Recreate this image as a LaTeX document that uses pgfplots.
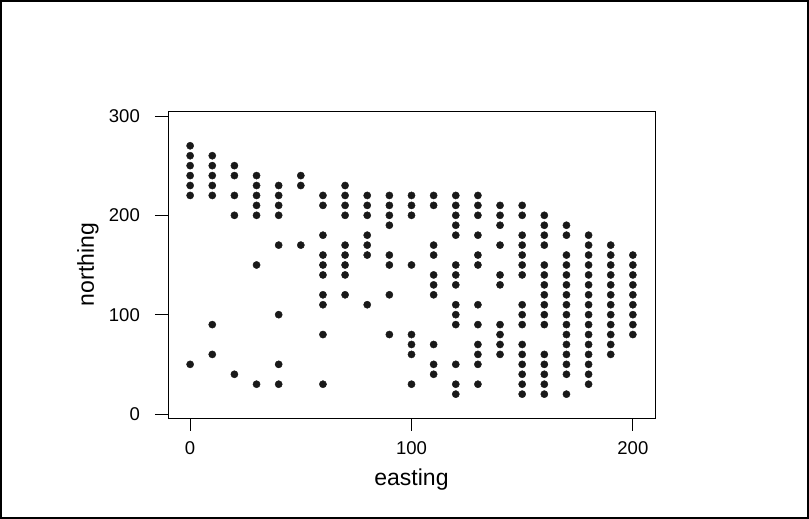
\documentclass[border=0pt]{standalone}
\usepackage{pgfplots}
\pgfplotsset{compat=1.18}
\usepackage{fontspec}
\setmainfont{Liberation Sans}
\begin{document}
\begin{tikzpicture}[x=1pt,y=1pt]
\useasboundingbox (0,0) rectangle (809,519);
\draw[line width=1.2pt] (1,1) rectangle (808,518);
\begin{axis}[
  at={(168pt,101pt)}, anchor=south west,
  scale only axis, width=487pt, height=307pt,
  xmin=-10, xmax=210, ymin=-4, ymax=305,
  xtick={0,100,200}, ytick={0,100,200,300},
  xtick pos=left, ytick pos=left,
  tick align=outside, major tick length=13pt,
  tick style={black, line width=0.9pt},
  axis line style={black, line width=0.9pt},
  /pgf/number format/assume math mode=true,
  ticklabel style={font=\fontsize{18.5}{18.5}\selectfont, inner sep=0pt},
  xticklabel shift=10pt, yticklabel shift=15pt,
  xlabel={easting}, ylabel={northing},
  label style={font=\fontsize{23}{23}\selectfont},
  xlabel style={at={(axis description cs:0.5,0)}, anchor=base, yshift=-68pt},
  ylabel style={at={(axis description cs:0,0.5)}, anchor=base, yshift=74pt},
]
\addplot[only marks, mark=*, mark size=3.6pt, color=black!90, mark options={fill=black!90, draw=black!90}] table {
x y
0 270
0 260
0 250
0 240
0 230
0 220
0 50
10 260
10 250
10 240
10 230
10 220
10 90
10 60
20 250
20 240
20 220
20 200
20 40
30 240
30 230
30 220
30 210
30 200
30 150
30 30
40 230
40 220
40 210
40 200
40 170
40 100
40 50
40 30
50 240
50 230
50 170
60 220
60 210
60 180
60 160
60 150
60 140
60 120
60 110
60 80
60 30
70 230
70 220
70 210
70 200
70 170
70 160
70 150
70 140
70 120
80 220
80 210
80 200
80 180
80 170
80 160
80 110
90 220
90 210
90 200
90 190
90 160
90 150
90 120
90 80
100 220
100 210
100 200
100 150
100 80
100 70
100 60
100 30
110 220
110 210
110 170
110 160
110 140
110 130
110 120
110 70
110 50
110 40
120 220
120 210
120 200
120 190
120 180
120 150
120 140
120 130
120 110
120 100
120 90
120 50
120 30
120 20
130 220
130 210
130 200
130 180
130 160
130 150
130 110
130 90
130 70
130 60
130 50
130 30
140 210
140 200
140 190
140 170
140 140
140 130
140 90
140 80
140 70
140 60
150 210
150 200
150 180
150 170
150 160
150 150
150 140
150 110
150 100
150 90
150 70
150 60
150 50
150 40
150 30
150 20
160 200
160 190
160 180
160 170
160 150
160 140
160 130
160 120
160 110
160 100
160 90
160 60
160 50
160 40
160 30
160 20
170 190
170 180
170 160
170 150
170 140
170 130
170 120
170 110
170 100
170 90
170 80
170 70
170 60
170 50
170 40
170 20
180 180
180 170
180 160
180 150
180 140
180 130
180 120
180 110
180 100
180 90
180 80
180 70
180 60
180 50
180 40
180 30
190 170
190 160
190 150
190 140
190 130
190 120
190 110
190 100
190 90
190 80
190 70
190 60
200 160
200 150
200 140
200 130
200 120
200 110
200 100
200 90
200 80
};
\end{axis}
\end{tikzpicture}
\end{document}
